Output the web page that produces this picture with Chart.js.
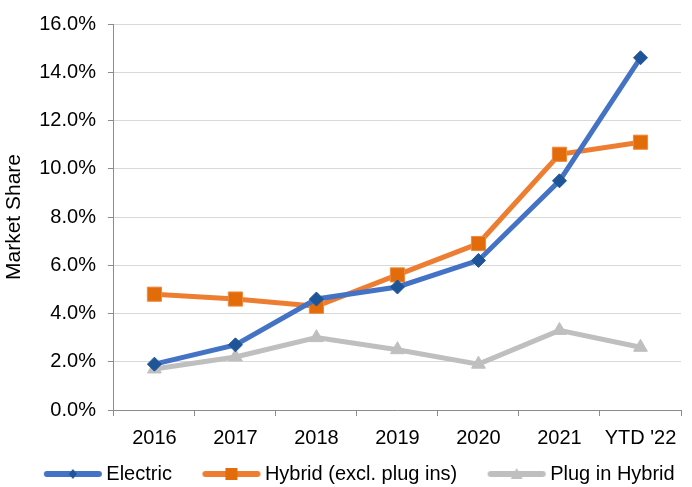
<!DOCTYPE html>
<html>
<head>
<meta charset="utf-8">
<script src="https://cdn.jsdelivr.net/npm/chart.js@4/dist/chart.umd.min.js"></script>
<style>
html,body{margin:0;padding:0;background:#fff;}
#wrap{width:692px;height:487px;}
</style>
</head>
<body>
<div id="wrap"><canvas id="c" width="692" height="487"></canvas></div>
<script>
const categories = ['2016','2017','2018','2019','2020','2021',"YTD '22"];
const electric = [1.9, 2.7, 4.6, 5.1, 6.2, 9.5, 14.6];
const hybrid = [4.8, 4.6, 4.3, 5.6, 6.9, 10.6, 11.1];
const plugIn = [1.7, 2.2, 3.0, 2.5, 1.9, 3.3, 2.6];
const yTicks = [0, 2, 4, 6, 8, 10, 12, 14, 16];

const FONT = "'Liberation Sans', Arial, sans-serif";
const FS = 20;

function legendImg(lineColor, markerColor, shape) {
  const c = document.createElement('canvas');
  c.width = 100; c.height = 14;
  const g = c.getContext('2d');
  g.strokeStyle = lineColor; g.lineWidth = 6; g.lineCap = 'round';
  g.beginPath(); g.moveTo(40, 7); g.lineTo(92, 7); g.stroke();
  g.fillStyle = markerColor;
  g.beginPath();
  if (shape === 'diamond') {
    g.moveTo(66, 2); g.lineTo(70, 7); g.lineTo(66, 12); g.lineTo(62, 7);
  } else if (shape === 'square') {
    g.rect(60, 1, 12, 12);
  } else {
    g.moveTo(66, 1); g.lineTo(72, 12); g.lineTo(60, 12);
  }
  g.closePath(); g.fill();
  return c;
}
const legendImgs = [
  legendImg('#4472C4', '#1F5597', 'diamond'),
  legendImg('#ED7D31', '#E36C0A', 'square'),
  legendImg('#BFBFBF', '#BFBFBF', 'triangle')
];

new Chart(document.getElementById('c'), {
  type: 'line',
  data: {
    labels: categories,
    datasets: [
      {label: 'Electric', data: electric, borderColor: '#4472C4', borderWidth: 5,
       pointStyle: 'rectRot', pointRadius: 7, pointBackgroundColor: '#1F5597', pointBorderColor: '#1F5597', pointBorderWidth: 1},
      {label: 'Hybrid (excl. plug ins)', data: hybrid, borderColor: '#ED7D31', borderWidth: 5,
       pointStyle: 'rect', pointRadius: 10, pointBackgroundColor: '#E36C0A', pointBorderColor: '#F08A40', pointBorderWidth: 1},
      {label: 'Plug in Hybrid', data: plugIn, borderColor: '#BFBFBF', borderWidth: 5,
       pointStyle: 'triangle', pointRadius: 8, pointBackgroundColor: '#BFBFBF', pointBorderColor: '#BFBFBF', pointBorderWidth: 1}
    ]
  },
  options: {
    responsive: false,
    animation: false,
    devicePixelRatio: 1,
    layout: {padding: {left: 0, right: 0, top: 17, bottom: -7}},
    plugins: {
      tooltip: {enabled: false},
      legend: {
        position: 'bottom',
        labels: {
          usePointStyle: true,
          pointStyleWidth: 79,
          boxHeight: 14,
          padding: 4,
          color: '#000',
          font: {family: FONT, size: FS},
          generateLabels: (chart) => chart.data.datasets.map((ds, i) => ({
            text: ds.label, pointStyle: legendImgs[i], datasetIndex: i,
            fillStyle: ds.borderColor, strokeStyle: ds.borderColor, lineWidth: 0, fontColor: '#000'
          }))
        }
      }
    },
    scales: {
      x: {
        offset: true,
        grid: {display: true, offset: true, drawOnChartArea: false, drawTicks: true, tickLength: 6, color: '#8c8c8c'},
        border: {color: '#8c8c8c', width: 1},
        ticks: {color: '#000', font: {family: FONT, size: FS}, padding: 10, maxRotation: 0}
      },
      y: {
        min: 0, max: 16,
        afterBuildTicks: (axis) => { axis.ticks = yTicks.map(v => ({value: v})); },
        grid: {color: '#d9d9d9', lineWidth: 1, tickLength: 6, tickColor: '#8c8c8c'},
        border: {color: '#8c8c8c', width: 1},
        ticks: {color: '#000', font: {family: FONT, size: FS}, padding: 12,
          callback: (v) => Number(v).toFixed(1) + '%'},
        title: {display: true, text: 'Market Share', color: '#000', font: {family: FONT, size: 21}, padding: {top: 2, bottom: 0}}
      }
    }
  }
});
</script>
</body>
</html>
